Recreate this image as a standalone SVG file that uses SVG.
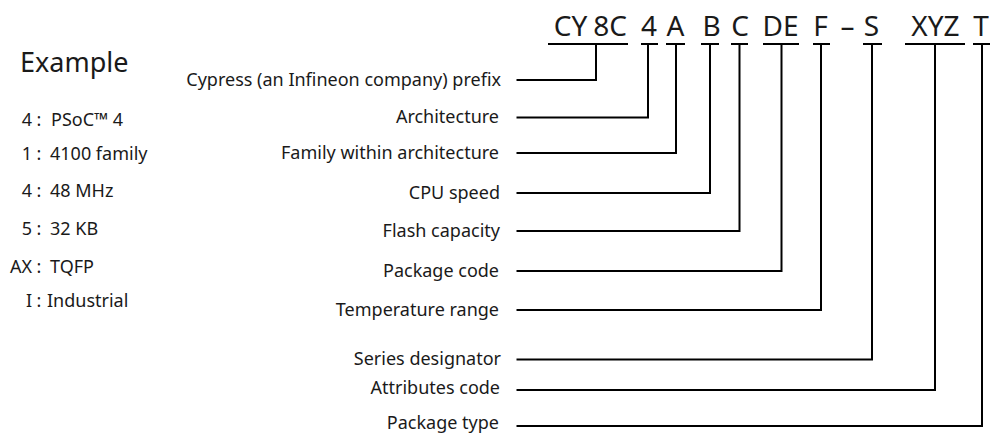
<svg xmlns="http://www.w3.org/2000/svg" width="990" height="435" viewBox="0 0 990 435">
<style>
text{font-family:"Noto Sans","Open Sans",sans-serif;fill:#1a1a1a}
.code{font-size:28px;text-anchor:middle}
.lbl{font-size:18px;text-anchor:end}
.ex{font-size:18px}
.key{text-anchor:end}
.col{text-anchor:middle}
.ln{fill:none;stroke:#000;stroke-width:2}
</style>
<rect width="990" height="435" fill="#fff"/>
<g id="code">
<text class="code" x="570.5" y="36">CY</text>
<text class="code" x="610" y="36">8C</text>
<text class="code" x="649" y="36">4</text>
<text class="code" x="675.5" y="36">A</text>
<text class="code" x="711.5" y="36">B</text>
<text class="code" x="740" y="36">C</text>
<text class="code" x="780.5" y="36">DE</text>
<text class="code" x="820.5" y="36">F</text>
<text class="code" x="847.5" y="36">–</text>
<text class="code" x="871.5" y="36">S</text>
<text class="code" x="935.5" y="36">XYZ</text>
<text class="code" x="981" y="36">T</text>
</g>
<g id="example">
<text x="20" y="72" style="font-size:27px">Example</text>
<g class="ex">
<text class="key" x="32" y="126">4</text><text class="col" x="39" y="126">:</text><text x="51" y="126">PSoC™ 4</text>
<text class="key" x="32" y="160">1</text><text class="col" x="39" y="160">:</text><text x="50" y="160">4100 family</text>
<text class="key" x="32" y="197">4</text><text class="col" x="39" y="197">:</text><text x="50" y="197">48  MHz</text>
<text class="key" x="32" y="235">5</text><text class="col" x="39" y="235">:</text><text x="50" y="235">32 KB</text>
<text class="key" x="32" y="273">AX</text><text class="col" x="39" y="273">:</text><text x="50" y="273">TQFP</text>
<text class="key" x="32" y="307">I</text><text class="col" x="39" y="307">:</text><text x="47" y="307">Industrial</text>
</g>
</g>
<g id="labels">
<text class="lbl" x="501" y="86">Cypress (an Infineon company) prefix</text>
<text class="lbl" x="499" y="123">Architecture</text>
<text class="lbl" x="499" y="159">Family within architecture</text>
<text class="lbl" x="500" y="199">CPU speed</text>
<text class="lbl" x="500" y="237">Flash capacity</text>
<text class="lbl" x="499" y="277">Package code</text>
<text class="lbl" x="499" y="316">Temperature range</text>
<text class="lbl" x="501" y="365">Series designator</text>
<text class="lbl" x="500" y="394">Attributes code</text>
<text class="lbl" x="499" y="429">Package type</text>
</g>
<g id="connectors" class="ln">
<path d="M548 44H628M596 44V80H516.5"/>
<path d="M641 44H658M648 44V117.5H516.5"/>
<path d="M666 44H685M676 44V153H516.5"/>
<path d="M701 44H719M710 44V193H516.5"/>
<path d="M731 44H748M739.5 44V231H516.5"/>
<path d="M763 44H799M781.5 44V271H516.5"/>
<path d="M813 44H830M821 44V310H516.5"/>
<path d="M863 44H882M872 44V359.5H516.5"/>
<path d="M905 44H965M935 44V390H516.5"/>
<path d="M973 44H990M982 44V426H516.5"/>
</g>
</svg>
